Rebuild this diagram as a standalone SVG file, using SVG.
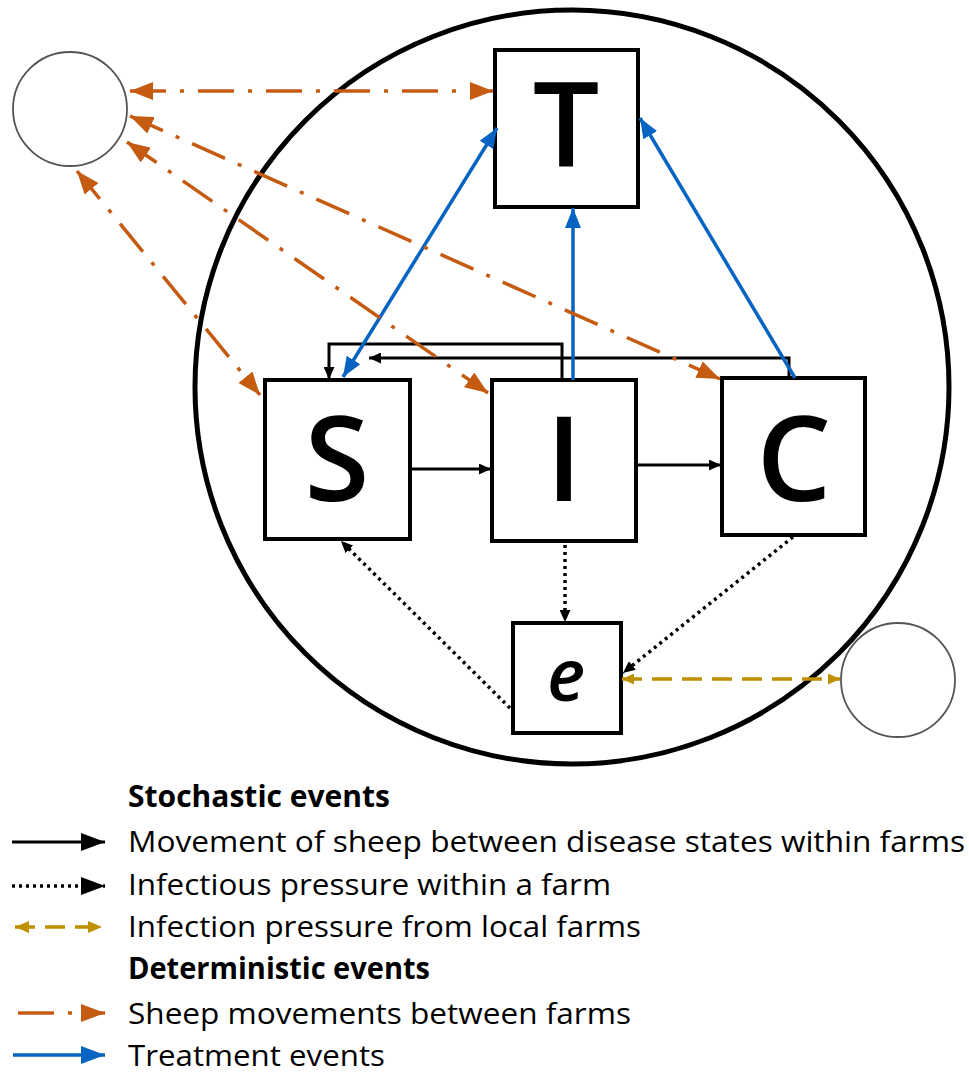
<svg xmlns="http://www.w3.org/2000/svg" width="969" height="1073" viewBox="0 0 969 1073">
<style>
.box{fill:#fff;stroke:#000;stroke-width:4}
.big{font-family:"Open Sans","Liberation Sans",sans-serif;font-size:118px;font-weight:600;fill:#000;text-anchor:middle}
.lg{font-family:"Open Sans","Liberation Sans",sans-serif;font-size:30px;fill:#000}
.lgb{font-family:"Open Sans","Liberation Sans",sans-serif;font-size:30px;font-weight:bold;fill:#000}
.farm{fill:#fff;stroke:#555;stroke-width:1.8}
.solid{fill:none;stroke:#000;stroke-width:3}
.dot{fill:none;stroke:#000;stroke-width:3.5;stroke-dasharray:3 4}
.gold{fill:none;stroke:#BF9000;stroke-width:3.5;stroke-dasharray:20 10}
.orange{fill:none;stroke:#C55A11;stroke-width:3.5;stroke-dasharray:36 14 4 14}
.blue{fill:none;stroke:#0563C1;stroke-width:3.5}
</style>
<defs>
<marker id="aBlack" markerUnits="userSpaceOnUse" markerWidth="12" markerHeight="11" refX="12" refY="5.5" orient="auto-start-reverse"><path d="M0,0 L12,5.5 L0,11 z" fill="#000"/></marker>
<marker id="aOrange" markerUnits="userSpaceOnUse" markerWidth="23" markerHeight="18" refX="23" refY="9" orient="auto-start-reverse"><path d="M0,0 L23,9 L0,18 z" fill="#C55A11"/></marker>
<marker id="aBlue" markerUnits="userSpaceOnUse" markerWidth="20" markerHeight="16" refX="20" refY="8" orient="auto-start-reverse"><path d="M0,0 L20,8 L0,16 z" fill="#0563C1"/></marker>
<marker id="aGold" markerUnits="userSpaceOnUse" markerWidth="12" markerHeight="11" refX="12" refY="5.5" orient="auto-start-reverse"><path d="M0,0 L12,5.5 L0,11 z" fill="#BF9000"/></marker>
<marker id="lBlack" markerUnits="userSpaceOnUse" markerWidth="24" markerHeight="18" refX="24" refY="9" orient="auto-start-reverse"><path d="M0,0 L24,9 L0,18 z" fill="#000"/></marker>
<marker id="lOrange" markerUnits="userSpaceOnUse" markerWidth="24" markerHeight="18" refX="24" refY="9" orient="auto-start-reverse"><path d="M0,0 L24,9 L0,18 z" fill="#C55A11"/></marker>
<marker id="lBlue" markerUnits="userSpaceOnUse" markerWidth="24" markerHeight="18" refX="24" refY="9" orient="auto-start-reverse"><path d="M0,0 L24,9 L0,18 z" fill="#0563C1"/></marker>
<marker id="lGold" markerUnits="userSpaceOnUse" markerWidth="14" markerHeight="12" refX="14" refY="6" orient="auto-start-reverse"><path d="M0,0 L14,6 L0,12 z" fill="#BF9000"/></marker>
</defs>

<g id="farm-main"><circle cx="572" cy="387" r="377" fill="none" stroke="#000" stroke-width="5"/></g>
<g id="farm-other"><circle class="farm" cx="70" cy="109" r="57"/></g>
<g id="farm-local"><circle class="farm" cx="898" cy="680" r="57"/></g>

<g id="node-T"><rect class="box" x="495" y="50" width="143" height="157"/><text class="big" x="566" y="166">T</text></g>
<g id="node-S"><rect class="box" x="265" y="380" width="145" height="159"/><text class="big" x="337" y="501">S</text></g>
<g id="node-I"><rect class="box" x="492" y="380" width="144" height="161"/><text class="big" x="564" y="501">I</text></g>
<g id="node-C"><rect class="box" x="722" y="378" width="143" height="157"/><text class="big" x="794" y="501">C</text></g>
<g id="node-e"><rect class="box" x="513" y="623" width="108" height="110"/><text x="566" y="701" font-family="'Open Sans','Liberation Sans',sans-serif" font-size="72" font-weight="600" font-style="italic" text-anchor="middle">e</text></g>

<g id="connectors">
<line class="solid" x1="410" y1="469" x2="491" y2="469" marker-end="url(#aBlack)"/>
<line class="solid" x1="636" y1="465" x2="721" y2="465" marker-end="url(#aBlack)"/>
<path class="solid" d="M562,380 V344 H329 V379" marker-end="url(#aBlack)"/>
<path class="solid" d="M789,378 V358 H369" marker-end="url(#aBlack)"/>

<line class="blue" x1="343" y1="377" x2="497" y2="128" marker-start="url(#aBlue)" marker-end="url(#aBlue)"/>
<line class="blue" x1="573" y1="380" x2="573" y2="208" marker-end="url(#aBlue)"/>
<line class="blue" x1="795" y1="378" x2="640" y2="118" marker-end="url(#aBlue)"/>

<line class="orange" x1="130" y1="91" x2="493" y2="91" marker-start="url(#aOrange)" marker-end="url(#aOrange)"/>
<line class="orange" x1="130" y1="116" x2="720" y2="379" marker-start="url(#aOrange)" marker-end="url(#aOrange)"/>
<line class="orange" x1="127" y1="142" x2="488" y2="393" marker-start="url(#aOrange)" marker-end="url(#aOrange)"/>
<line class="orange" x1="77" y1="171" x2="260" y2="395" marker-start="url(#aOrange)" marker-end="url(#aOrange)"/>

<line class="dot" x1="565" y1="545" x2="565" y2="622" marker-end="url(#aBlack)"/>
<line class="dot" x1="793" y1="537" x2="623" y2="673" marker-end="url(#aBlack)"/>
<line class="dot" x1="510" y1="708" x2="341" y2="541" marker-end="url(#aBlack)"/>

<line class="gold" x1="622" y1="679" x2="840" y2="679" marker-start="url(#aGold)" marker-end="url(#aGold)"/>
</g>

<g id="legend">
<text class="lgb" x="128" y="807" textLength="262" lengthAdjust="spacingAndGlyphs">Stochastic events</text>
<line class="solid" x1="12" y1="842" x2="105" y2="842" marker-end="url(#lBlack)"/>
<text class="lg" x="128" y="852" textLength="837" lengthAdjust="spacingAndGlyphs">Movement of sheep between disease states within farms</text>
<line class="dot" x1="12" y1="886" x2="105" y2="886" stroke-width="3" marker-end="url(#lBlack)"/>
<text class="lg" x="128" y="895" textLength="483" lengthAdjust="spacingAndGlyphs">Infectious pressure within a farm</text>
<line class="gold" x1="15" y1="927" x2="102" y2="927" stroke-dasharray="18 14" marker-start="url(#lGold)" marker-end="url(#lGold)"/>
<text class="lg" x="128" y="937" textLength="513" lengthAdjust="spacingAndGlyphs">Infection pressure from local farms</text>
<text class="lgb" x="128" y="979" textLength="302" lengthAdjust="spacingAndGlyphs">Deterministic events</text>
<line class="orange" x1="18" y1="1013" x2="105" y2="1013" stroke-dasharray="24 15 4 15" marker-end="url(#lOrange)"/>
<text class="lg" x="128" y="1024" textLength="503" lengthAdjust="spacingAndGlyphs">Sheep movements between farms</text>
<line class="blue" x1="13" y1="1055" x2="105" y2="1055" marker-end="url(#lBlue)"/>
<text class="lg" x="128" y="1066" textLength="257" lengthAdjust="spacingAndGlyphs">Treatment events</text>
</g>
</svg>
